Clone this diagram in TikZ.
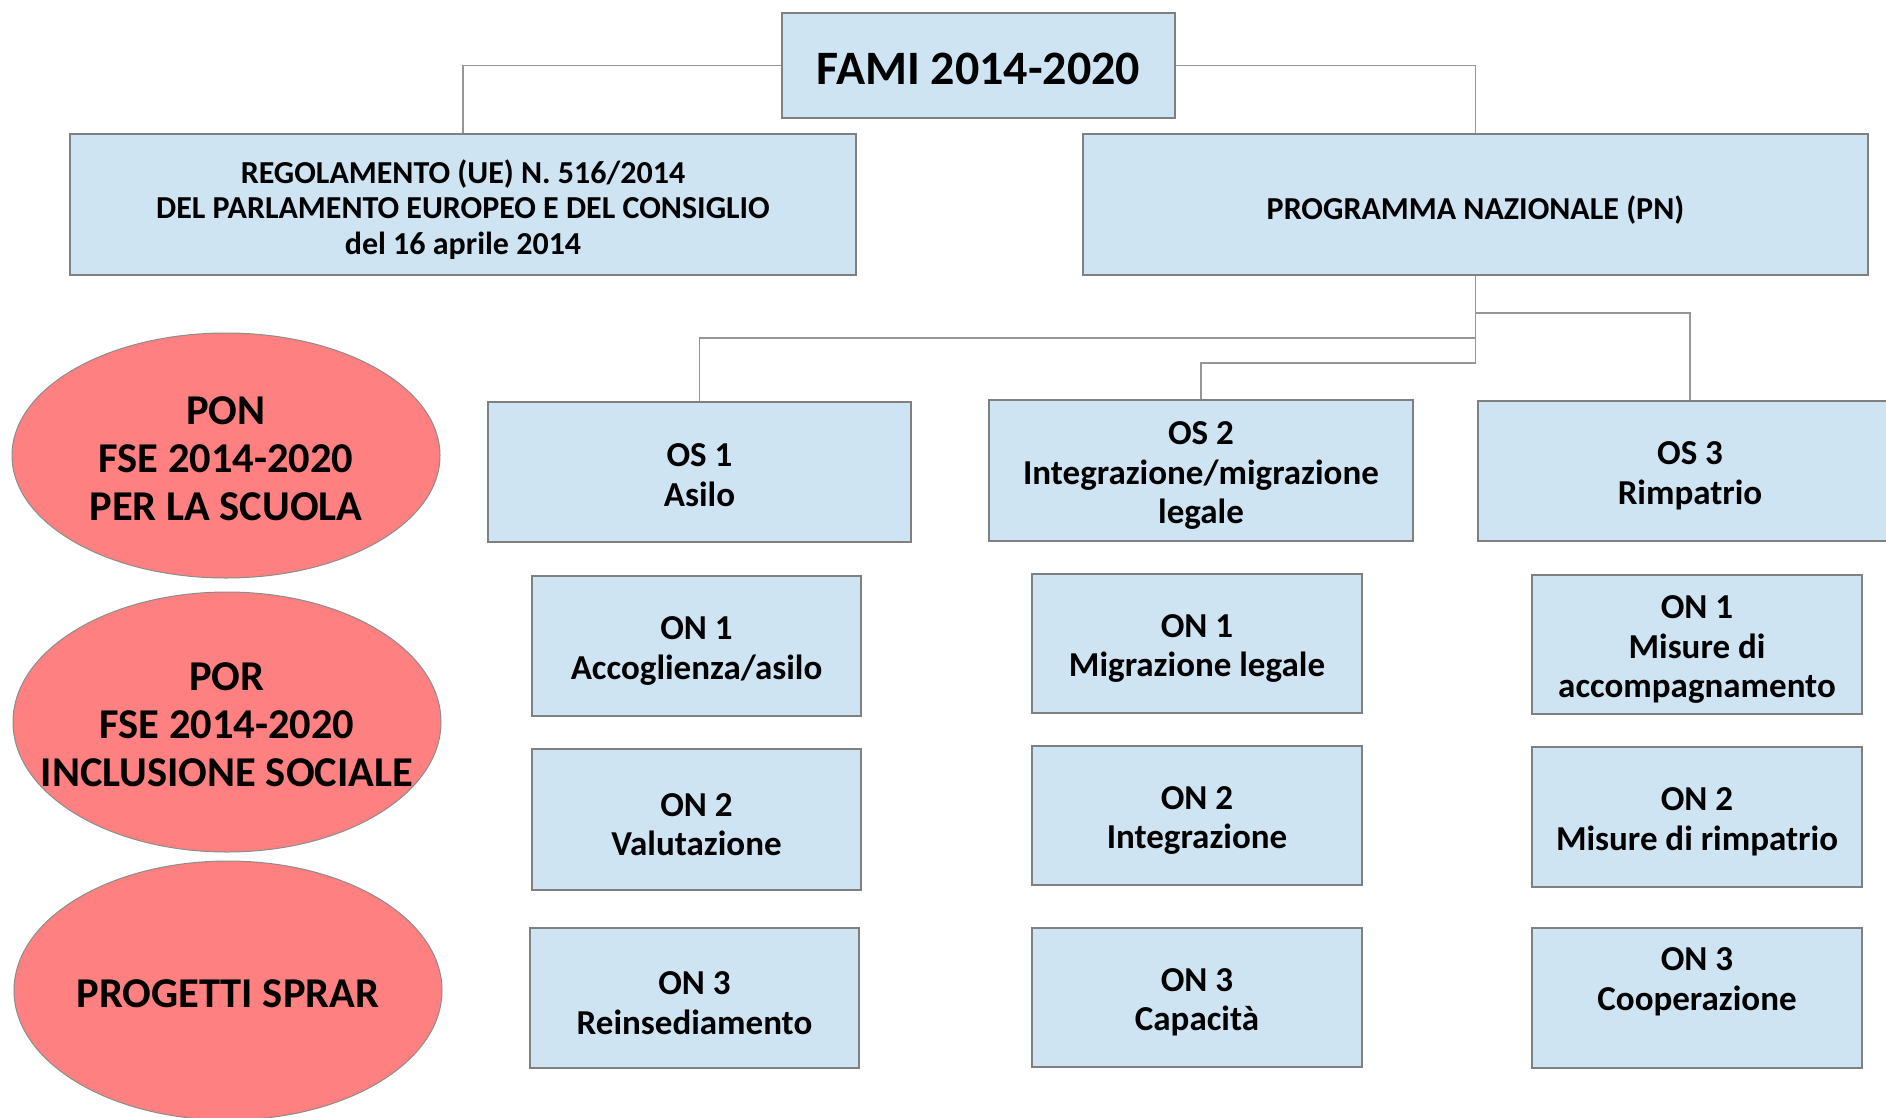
\documentclass[tikz,border=0pt]{standalone}
\usepackage{fontspec}
\setmainfont{Carlito}
\usetikzlibrary{shapes.geometric}
\definecolor{boxfill}{RGB}{207,228,243}
\definecolor{boxline}{RGB}{128,128,128}
\definecolor{connline}{RGB}{150,150,150}
\definecolor{ellfill}{RGB}{255,128,128}
\definecolor{ellline}{RGB}{140,140,140}
\begin{document}
\begin{tikzpicture}[x=1pt,y=-1pt,
  box/.style={rectangle, draw=boxline, line width=2pt, fill=boxfill, inner sep=0pt},
  ell/.style={ellipse, draw=ellline, line width=1pt, fill=ellfill, inner sep=0pt},
  txt/.style={inner sep=0pt, align=center, font=\bfseries\fontsize{35}{39.5}\selectfont},
  toptxt/.style={txt, font=\bfseries\fontsize{48}{56}\selectfont},
  regtxt/.style={txt, font=\bfseries\fontsize{32}{35.5}\selectfont},
  elltxt/.style={txt, font=\bfseries\fontsize{42.5}{48}\selectfont},
  conn/.style={draw=connline, line width=1.5pt}]
\useasboundingbox (0,0) rectangle (1886,1117);

% top level
\node[box, minimum width=393pt, minimum height=105pt] (fami) at (978.5,65.5) {};
\node[box, minimum width=786pt, minimum height=141pt] (reg) at (463,204.5) {};
\node[box, minimum width=785pt, minimum height=141pt] (pn) at (1475.5,204.5) {};

% OS row
\node[box, minimum width=423pt, minimum height=140pt] (os1) at (699.5,472) {};
\node[box, minimum width=424pt, minimum height=141pt] (os2) at (1201,470.5) {};
\node[box, minimum width=424pt, minimum height=140pt] (os3) at (1690,471) {};

% column 1
\node[box, minimum width=329pt, minimum height=140pt] (c1a) at (696.5,646) {};
\node[box, minimum width=329pt, minimum height=141pt] (c1b) at (696.5,819.5) {};
\node[box, minimum width=329pt, minimum height=140pt] (c1c) at (694.5,998) {};

% column 2
\node[box, minimum width=330pt, minimum height=139pt] (c2a) at (1197,643.5) {};
\node[box, minimum width=330pt, minimum height=139pt] (c2b) at (1197,815.5) {};
\node[box, minimum width=330pt, minimum height=139pt] (c2c) at (1197,997.5) {};

% column 3
\node[box, minimum width=330pt, minimum height=139pt] (c3a) at (1697,644.5) {};
\node[box, minimum width=330pt, minimum height=140pt] (c3b) at (1697,817) {};
\node[box, minimum width=330pt, minimum height=140pt] (c3c) at (1697,998) {};

% ellipses
\node[ell, minimum width=428pt, minimum height=245pt] (e1) at (226,455.5) {};
\node[ell, minimum width=428pt, minimum height=260pt] (e2) at (227,722) {};
\node[ell, minimum width=428pt, minimum height=259pt] (e3) at (228,990.5) {};

% texts
\node[toptxt] (famit) at ([yshift=-3.5pt]fami.center) {FAMI 2014-2020};
\node[regtxt] (regt) at ([yshift=-5pt]reg.center)
  {REGOLAMENTO (UE) N. 516/2014\\DEL PARLAMENTO EUROPEO E DEL CONSIGLIO\\del 16 aprile 2014};
\node[regtxt] (pnt) at ([yshift=-5.5pt]pn.center) {PROGRAMMA NAZIONALE (PN)};
\node[txt] (os1t) at ([yshift=-3pt]os1.center) {OS 1\\Asilo};
\node[txt] (os2t) at ([yshift=-5pt]os2.center) {OS 2\\Integrazione/migrazione\\legale};
\node[txt] (os3t) at ([yshift=-5pt]os3.center) {OS 3\\Rimpatrio};
\node[txt] (c1at) at ([yshift=-5pt]c1a.center) {ON 1\\Accoglienza/asilo};
\node[txt] (c1bt) at ([yshift=-5pt]c1b.center) {ON 2\\Valutazione};
\node[txt] (c1ct) at ([yshift=-5pt]c1c.center) {ON 3\\Reinsediamento};
\node[txt] (c2at) at ([yshift=-5pt]c2a.center) {ON 1\\Migrazione legale};
\node[txt] (c2bt) at ([yshift=-5pt]c2b.center) {ON 2\\Integrazione};
\node[txt] (c2ct) at ([yshift=-5pt]c2c.center) {ON 3\\Capacità};
\node[txt] (c3at) at ([yshift=-5pt]c3a.center) {ON 1\\Misure di\\accompagnamento};
\node[txt] (c3bt) at ([yshift=-5pt]c3b.center) {ON 2\\Misure di rimpatrio};
\node[txt] (c3ct) at ([yshift=16pt]c3c.center) {ON 3\\Cooperazione};
\node[elltxt] (e1t) at ([yshift=-3pt]e1.center) {PON\\FSE 2014-2020\\PER LA SCUOLA};
\node[elltxt] (e2t) at ([yshift=-3pt]e2.center) {POR\\FSE 2014-2020\\INCLUSIONE SOCIALE};
\node[elltxt] (e3t) at ([yshift=-3.5pt]e3.center) {PROGETTI SPRAR};

% connectors
\coordinate (j1) at (1475.5,313);
\coordinate (j2) at (1475.5,338);
\coordinate (j3) at (1475.5,363);
\draw[conn] (fami.west) -| (reg.north);
\draw[conn] (fami.east) -| (pn.north);
\draw[conn] (pn.south) -- (j3);
\draw[conn] (j1) -| (os3.north);
\draw[conn] (j2) -| (os1.north);
\draw[conn] (j3) -| (os2.north);
\end{tikzpicture}
\end{document}
